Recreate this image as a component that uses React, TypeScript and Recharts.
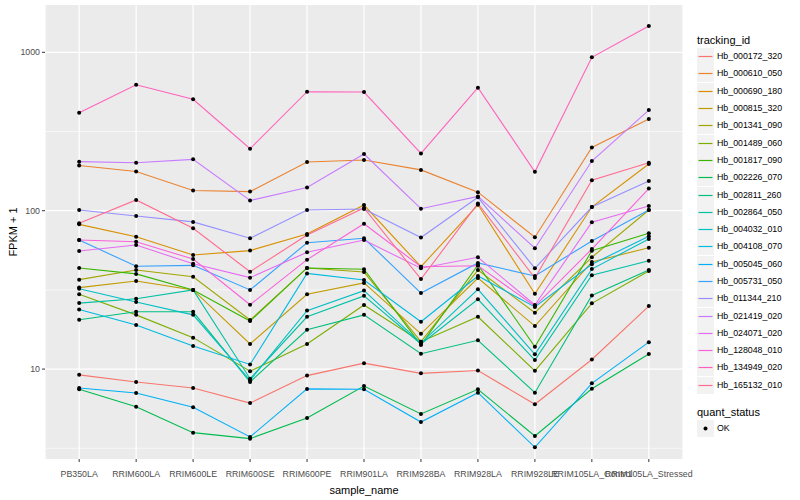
import React from "react";
import { LineChart, Line, XAxis, YAxis, CartesianGrid } from "recharts";

const samples = [
  "PB350LA",
  "RRIM600LA",
  "RRIM600LE",
  "RRIM600SE",
  "RRIM600PE",
  "RRIM901LA",
  "RRIM928BA",
  "RRIM928LA",
  "RRIM928LE",
  "RRIM105LA_Control",
  "RRIM105LA_Stressed",
];

// FPKM + 1, one array per tracking_id, in sample order
const hb000172_320 = [9.2, 8.3, 7.6, 6.1, 9.1, 10.9, 9.4, 9.8, 6.0, 11.5, 25];
const hb000610_050 = [193, 177, 134, 132, 203, 209, 181, 131, 68, 251, 379];
const hb000690_180 = [82, 68.5, 52.5, 56, 71.3, 108.6, 44.3, 109, 29.9, 105.5, 197];
const hb000815_320 = [32.7, 36, 31.6, 14.4, 29.7, 35, 16.7, 37.6, 18.7, 47.5, 58.4];
const hb001341_090 = [36.7, 42.2, 38.3, 20.4, 43.5, 41, 14.9, 42.2, 22.7, 50.8, 101];
const hb001489_060 = [29.7, 22, 15.8, 9.7, 14.4, 25.4, 14.9, 21.4, 9.75, 26, 41.6];
const hb001817_090 = [43.5, 39.9, 31.6, 20.1, 43.5, 42.7, 14.2, 45.4, 13.85, 55.9, 72];
const hb002226_070 = [7.46, 5.79, 3.97, 3.64, 4.91, 7.82, 5.21, 7.46, 3.78, 7.51, 12.45];
const hb002811_260 = [20.5, 23, 23, 8.3, 17.7, 22, 12.5, 15.2, 7.1, 29.2, 42.2];
const hb002864_050 = [26.1, 27.8, 31.6, 8.7, 21.4, 29, 14.4, 27.6, 11.4, 39.1, 48.3];
const hb004032_010 = [32.2, 26.5, 22, 8.5, 23.4, 31.3, 14.6, 31.9, 12.4, 42.8, 66.3];
const hb004108_070 = [23.8, 19, 14, 10.7, 40.2, 36.5, 19.9, 38.7, 24.7, 45.9, 69];
const hb005045_060 = [7.6, 7.06, 5.74, 3.73, 7.5, 7.46, 4.63, 7.1, 3.21, 8.13, 14.8];
const hb005731_050 = [65.3, 44.6, 45.2, 31.6, 62.8, 67, 30.2, 46.8, 38.7, 64.4, 101];
const hb011344_210 = [101, 92.6, 85, 67, 101, 102.5, 67.7, 121.5, 43.3, 105.5, 154];
const hb021419_020 = [204, 201, 211, 116, 140, 228, 103, 123, 58, 206, 432];
const hb024071_020 = [55.7, 60.7, 46.2, 37.8, 54.6, 65.3, 43.3, 50.8, 25.4, 84.5, 107];
const hb128048_010 = [65.3, 63.7, 49.5, 25.5, 49.1, 82.8, 44.3, 44.9, 25, 57.3, 138];
const hb134949_020 = [416, 624, 505, 246, 564, 561, 230, 598, 176, 930, 1466];
const hb165132_010 = [83.3, 117, 77.4, 41.2, 70.2, 104, 37, 111, 37.6, 155.5, 201];

const trackingIds = [
  "Hb_000172_320",
  "Hb_000610_050",
  "Hb_000690_180",
  "Hb_000815_320",
  "Hb_001341_090",
  "Hb_001489_060",
  "Hb_001817_090",
  "Hb_002226_070",
  "Hb_002811_260",
  "Hb_002864_050",
  "Hb_004032_010",
  "Hb_004108_070",
  "Hb_005045_060",
  "Hb_005731_050",
  "Hb_011344_210",
  "Hb_021419_020",
  "Hb_024071_020",
  "Hb_128048_010",
  "Hb_134949_020",
  "Hb_165132_010",
];

const seriesValues = [
  hb000172_320, hb000610_050, hb000690_180, hb000815_320, hb001341_090,
  hb001489_060, hb001817_090, hb002226_070, hb002811_260, hb002864_050,
  hb004032_010, hb004108_070, hb005045_060, hb005731_050, hb011344_210,
  hb021419_020, hb024071_020, hb128048_010, hb134949_020, hb165132_010,
];

const yTicks = [10, 100, 1000];
const yMinor = [3.1623, 31.623, 316.23];

// ggplot default hue palette for 20 levels
const palette = [
  "#F8766D", "#EA8331", "#D89000", "#C09B00", "#A3A500",
  "#7CAE00", "#39B600", "#00BB4E", "#00BF7D", "#00C1A3",
  "#00BFC4", "#00BAE0", "#00B0F6", "#35A2FF", "#9590FF",
  "#C77CFF", "#E76BF3", "#FA62DB", "#FF62BC", "#FF6C91",
];

const rows = samples.map((s, i) => {
  const row: Record<string, number | string> = { idx: i, sample: s };
  trackingIds.forEach((id, k) => {
    row[id] = seriesValues[k][i];
  });
  return row;
});

const FONT = '"Liberation Sans", Arial, Helvetica, sans-serif';

function LegendPanel() {
  return (
    <div
      style={{
        position: "absolute",
        left: 697,
        top: 32,
        fontFamily: FONT,
        color: "#000",
      }}
    >
      <div style={{ fontSize: 11, height: 16, lineHeight: "16px" }}>tracking_id</div>
      {trackingIds.map((id, k) => (
        <div
          key={id}
          style={{ display: "flex", alignItems: "center", height: 17.3 }}
        >
          <svg width={17} height={17} style={{ display: "block" }}>
            <rect width={17} height={17} fill="#F2F2F2" />
            <line x1={1.5} x2={15.5} y1={8.5} y2={8.5} stroke={palette[k]} strokeWidth={1.2} />
          </svg>
          <span style={{ fontSize: 8.8, marginLeft: 3, lineHeight: "17px" }}>{id}</span>
        </div>
      ))}
      <div style={{ fontSize: 11, height: 16, lineHeight: "16px", marginTop: 10 }}>quant_status</div>
      <div style={{ display: "flex", alignItems: "center", height: 17.3 }}>
        <svg width={17} height={17} style={{ display: "block" }}>
          <rect width={17} height={17} fill="#F2F2F2" />
          <circle cx={8.5} cy={8.5} r={2} fill="#000" />
        </svg>
        <span style={{ fontSize: 8.8, marginLeft: 3, lineHeight: "17px" }}>OK</span>
      </div>
    </div>
  );
}

export default function App() {
  return (
    <div style={{ position: "relative", width: 800, height: 500, background: "#fff" }}>
      <style>{"body{margin:0}"}</style>
      <LineChart
        width={800}
        height={500}
        data={rows}
        margin={{ top: 5, right: 117, left: 0, bottom: 21 }}
      >
        <CartesianGrid
          fill="#EBEBEB"
          stroke="#FFFFFF"
          strokeWidth={0.6}
          vertical={false}
          horizontalValues={yMinor}
        />
        <CartesianGrid
          stroke="#FFFFFF"
          strokeWidth={1.2}
          horizontalValues={yTicks}
        />
        <XAxis
          dataKey="idx"
          type="number"
          domain={[-0.6, 10.6]}
          ticks={samples.map((_, i) => i)}
          interval={0}
          tickFormatter={(i: number) => samples[i]}
          tick={{ fill: "#4D4D4D", fontSize: 8.8, fontFamily: FONT }}
          tickLine={{ stroke: "#333333" }}
          tickSize={3}
          tickMargin={9}
          axisLine={false}
          height={20}
          allowDataOverflow
        />
        <YAxis
          type="number"
          scale="log"
          domain={[2.707, 1989]}
          ticks={yTicks}
          allowDataOverflow
          tick={{ fill: "#4D4D4D", fontSize: 8.8, fontFamily: FONT }}
          tickLine={{ stroke: "#333333" }}
          tickSize={3}
          tickMargin={2}
          axisLine={false}
          width={45}
        />
        {trackingIds.map((id, k) => (
          <Line
            key={id}
            dataKey={id}
            type="linear"
            stroke={palette[k]}
            strokeWidth={1.1}
            dot={false}
            activeDot={false}
            isAnimationActive={false}
          />
        ))}
        {trackingIds.map((id) => (
          <Line
            key={id + "-pt"}
            dataKey={id}
            stroke="none"
            dot={{ r: 2, fill: "#000000", stroke: "none" }}
            activeDot={false}
            legendType="none"
            isAnimationActive={false}
          />
        ))}
      </LineChart>
      <div
        style={{
          position: "absolute",
          left: 45,
          width: 638,
          top: 484,
          textAlign: "center",
          fontFamily: FONT,
          fontSize: 11,
          color: "#000",
        }}
      >
        sample_name
      </div>
      <div
        style={{
          position: "absolute",
          left: 13,
          top: 232,
          transform: "translate(-50%, -50%) rotate(-90deg)",
          whiteSpace: "nowrap",
          fontFamily: FONT,
          fontSize: 11,
          color: "#000",
        }}
      >
        FPKM + 1
      </div>
      <LegendPanel />
    </div>
  );
}
